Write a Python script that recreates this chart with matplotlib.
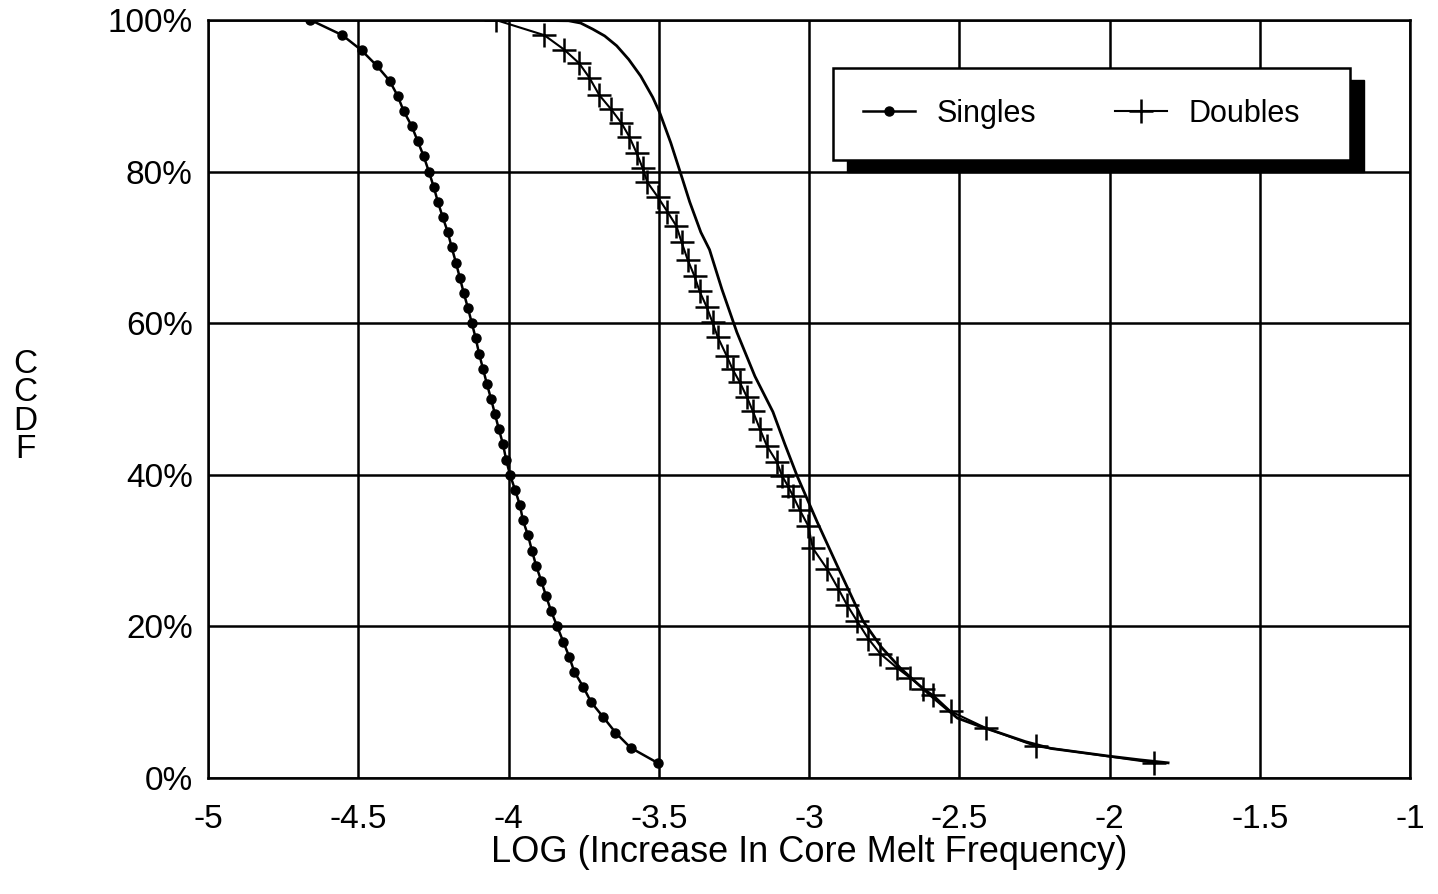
import matplotlib
matplotlib.use("Agg")
import matplotlib.pyplot as plt
from matplotlib.patches import Rectangle
from matplotlib.lines import Line2D

plt.rcParams['font.family'] = ['Liberation Sans', 'DejaVu Sans']

# ---- data ----
singles_x = [-4.659, -4.553, -4.489, -4.439, -4.396, -4.369, -4.349, -4.322, -4.302, -4.282,
             -4.265, -4.249, -4.235, -4.219, -4.202, -4.189, -4.175, -4.162, -4.149, -4.135,
             -4.122, -4.109, -4.098, -4.085, -4.072, -4.058, -4.045, -4.032, -4.018, -4.008,
             -3.995, -3.978, -3.962, -3.952, -3.935, -3.922, -3.908, -3.891, -3.875, -3.858,
             -3.838, -3.818, -3.798, -3.781, -3.751, -3.725, -3.684, -3.644, -3.594, -3.504]
singles_y = [100, 98, 96, 94, 92, 90, 88, 86, 84, 82,
             80, 78, 76, 74, 72, 70, 68, 66, 64, 62,
             60, 58, 56, 54, 52, 50, 48, 46, 44, 42,
             40, 38, 36, 34, 32, 30, 28, 26, 24, 22,
             20, 18, 16, 14, 12, 10, 8, 6, 4, 2]

doubles_x = [-4.042, -3.881, -3.815, -3.765, -3.731, -3.698, -3.658, -3.624, -3.598, -3.574,
             -3.554, -3.538, -3.504, -3.471, -3.441, -3.424, -3.404, -3.381, -3.364, -3.341,
             -3.321, -3.304, -3.274, -3.254, -3.230, -3.207, -3.187, -3.164, -3.140, -3.107,
             -3.090, -3.070, -3.053, -3.030, -3.003, -2.987, -2.940, -2.903, -2.873, -2.840,
             -2.803, -2.763, -2.706, -2.663, -2.619, -2.586, -2.529, -2.412, -2.245, -1.851]
doubles_y = [100, 98.0, 96.1, 94.3, 92.4, 90.1, 88.2, 86.4, 84.6, 82.5,
             80.5, 78.6, 76.7, 74.7, 72.8, 70.7, 68.4, 66.2, 64.2, 62.2,
             60.1, 58.2, 55.7, 53.9, 52.2, 50.3, 48.4, 46.1, 43.8, 41.7,
             39.9, 38.5, 37.2, 35.3, 33.3, 30.3, 27.6, 25.0, 22.8, 20.7,
             18.4, 16.4, 14.5, 13.2, 11.8, 10.9, 8.8, 6.6, 4.2, 2.0]

smooth_x = [-4.042, -3.800, -3.760, -3.720, -3.680, -3.640, -3.600, -3.560, -3.520, -3.497,
            -3.460, -3.421, -3.397, -3.360, -3.331, -3.290, -3.240, -3.180, -3.120, -3.080,
            -3.040, -2.973, -2.906, -2.820, -2.760, -2.696, -2.596, -2.506, -2.430, -2.362,
            -2.280, -2.195, -2.100, -2.005, -1.900, -1.805]
smooth_y = [100, 99.9, 99.6, 98.8, 97.9, 96.6, 94.8, 92.6, 89.8, 87.8,
            83.8, 79.0, 76.0, 72.0, 69.7, 64.5, 58.8, 53.0, 48.3, 44.0,
            39.9, 33.8, 28.0, 20.7, 17.3, 14.5, 10.9, 7.9, 6.8, 5.9,
            4.8, 3.9, 3.4, 2.9, 2.4, 2.0]

x_ticks = [-5, -4.5, -4, -3.5, -3, -2.5, -2, -1.5, -1]
x_tick_labels = ['-5', '-4.5', '-4', '-3.5', '-3', '-2.5', '-2', '-1.5', '-1']
y_ticks = [0, 20, 40, 60, 80, 100]
y_tick_labels = ['0%', '20%', '40%', '60%', '80%', '100%']

# ---- figure ----
W, H = 1438, 894
fig = plt.figure(figsize=(W / 100, H / 100), dpi=100)
L, R, T, B = 208, 1410, 20, 778
ax = fig.add_axes([L / W, 1 - B / H, (R - L) / W, (B - T) / H])

ax.set_xlim(-5, -1)
ax.set_ylim(0, 100)
ax.set_xticks(x_ticks)
ax.set_xticklabels(x_tick_labels)
ax.set_yticks(y_ticks)
ax.set_yticklabels(y_tick_labels)
ax.tick_params(axis='both', length=0, labelsize=24)
ax.tick_params(axis='x', pad=19)
ax.tick_params(axis='y', pad=11)
ax.grid(True, color='black', linewidth=1.8)
ax.set_axisbelow(True)
for s in ax.spines.values():
    s.set_linewidth(1.8)
    s.set_color('black')

ax.plot(singles_x, singles_y, color='black', linewidth=1.8, marker='o',
        markersize=6.5, label='Singles', zorder=3)
ax.plot(doubles_x, doubles_y, color='black', linewidth=1.5, marker='+',
        markersize=17, markeredgewidth=1.8, label='Doubles', zorder=3)
ax.plot(smooth_x, smooth_y, color='black', linewidth=2.0, zorder=3)

ax.set_xlabel('LOG (Increase In Core Melt Frequency)', fontsize=26, labelpad=0)
fig.text(25 / W, 1 - 407 / H, 'C\nC\nD\nF', fontsize=24, ha='center', va='center',
         linespacing=0.9)

# legend box with black drop shadow
lx0, lx1, ly0, ly1 = 833, 1350, 68, 160
ax_w, ax_h = R - L, B - T
bx = (lx0 - L) / ax_w
by = (B - ly1) / ax_h
bw = (lx1 - lx0) / ax_w
bh = (ly1 - ly0) / ax_h
shadow = Rectangle((bx + 14 / ax_w, by - 12 / ax_h), bw, bh, transform=ax.transAxes,
                   facecolor='black', edgecolor='black', zorder=4, clip_on=False)
ax.add_patch(shadow)
box = Rectangle((bx, by), bw, bh, transform=ax.transAxes, facecolor='white',
                edgecolor='black', linewidth=1.8, zorder=4.5, clip_on=False)
ax.add_patch(box)
handles = [Line2D([], [], color='black', linewidth=1.8, marker='o', markersize=6.5),
           Line2D([], [], color='black', linewidth=1.5, marker='+', markersize=17,
                  markeredgewidth=1.8)]
leg = ax.legend(handles, ['Singles', 'Doubles'], loc='center', ncol=2,
                bbox_to_anchor=(bx - 10 / ax_w, by, bw, bh), fontsize=22,
                frameon=False, handlelength=1.7, handletextpad=0.7,
                columnspacing=2.6, borderpad=0.0)
leg.set_zorder(5)

fig.savefig('out.png', dpi=100)
